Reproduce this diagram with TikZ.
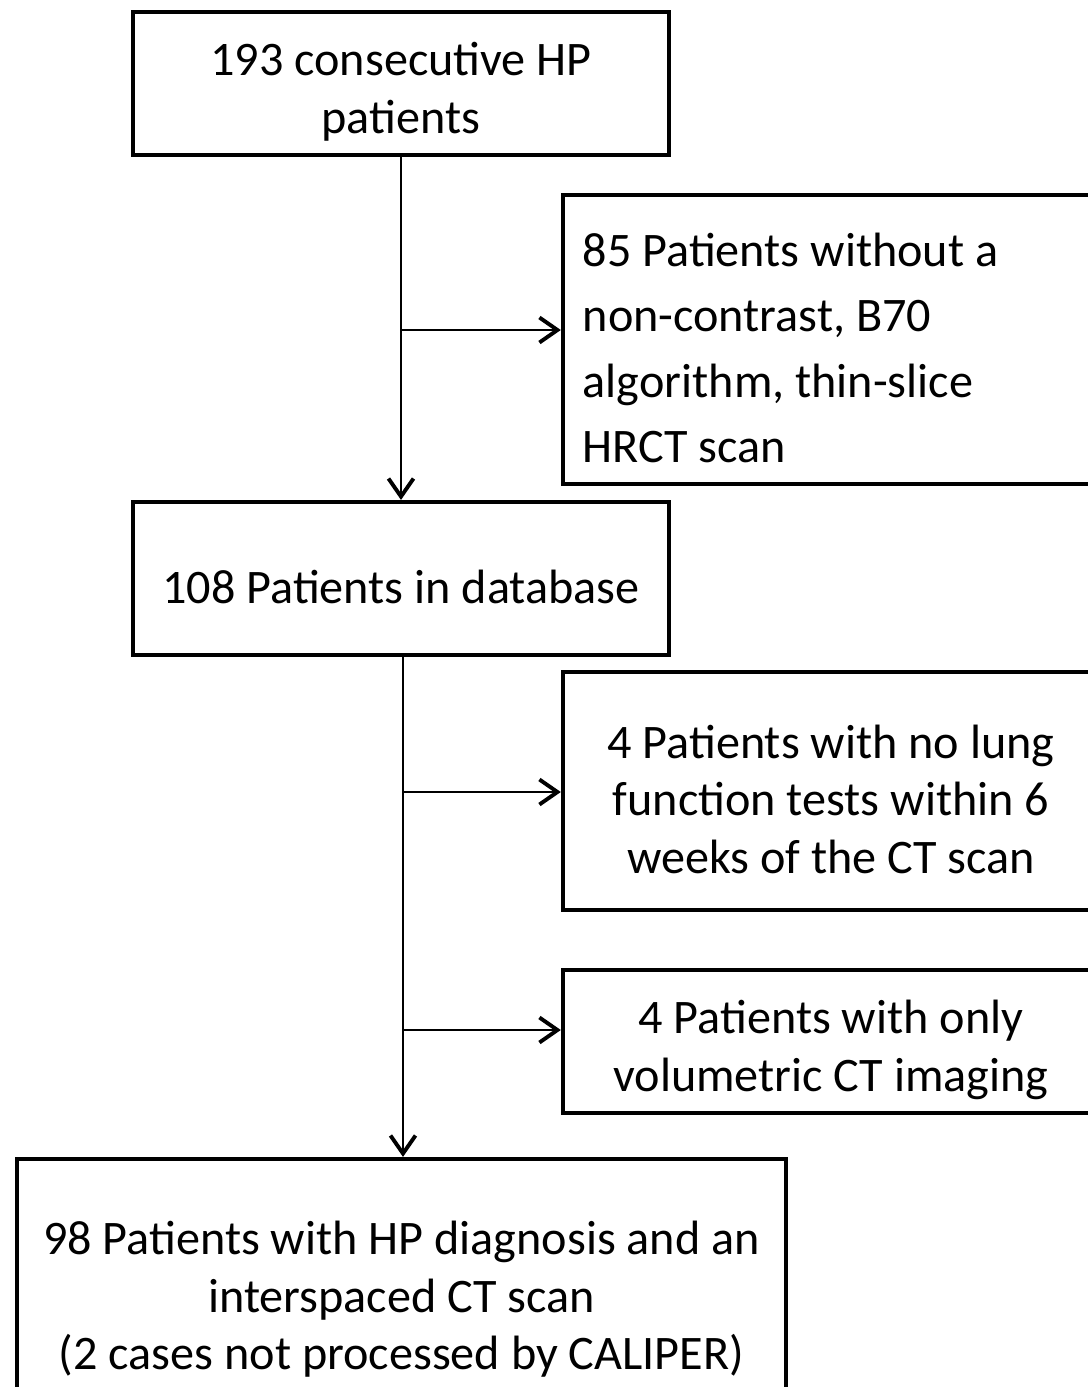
\documentclass[tikz,border=0pt]{standalone}
\usepackage{fontspec}
\setmainfont{Carlito}
\usetikzlibrary{arrows.meta}
\tikzset{
  box/.style={draw,line width=1.15pt,align=flush center,inner sep=0pt,text width=5cm,
    font=\fontsize{13.7}{16.4}\selectfont,
    execute at begin node={\rule{0pt}{14.2pt}}},
  arr/.style={line width=0.8pt,-{Straight Barb[length=1.8mm,width=2.5mm,line width=1.1pt]}}
}
\begin{document}
\begin{tikzpicture}[x=0.01cm,y=-0.01cm]
    \useasboundingbox (0,0) rectangle (1088,1387);
    \clip (0,0) rectangle (1088,1387);

    \node[box,minimum width=5.36cm,minimum height=1.43cm] (start) at (401,83.5)
          {193 consecutive HP\\patients};

    \node[box,minimum width=5.36cm,minimum height=2.89cm,align=flush left,
          text width=4.96cm,font=\fontsize{13.7}{18.6}\selectfont] (noscan) at (831,339.5)
          {85 Patients without a\\non-contrast, B70\\algorithm, thin-slice\\HRCT scan};

    \node[box,minimum width=5.36cm,minimum height=1.53cm] (database) at (401,578.5)
          {108 Patients in database};

    \node[box,minimum width=5.36cm,minimum height=2.38cm] (nolung) at (831,791)
          {4 Patients with no lung\\function tests within 6\\weeks of the CT scan};

    \node[box,minimum width=5.36cm,minimum height=1.43cm] (volume) at (831,1041.5)
          {4 Patients with only\\volumetric CT imaging};

    \node[box,text width=7.6cm,minimum width=7.69cm,minimum height=2.64cm] (final) at (401.5,1291)
          {98 Patients with HP diagnosis and an\\interspaced CT scan\\(2 cases not processed by CALIPER)};

    % connectors
    \coordinate (split1) at (401,330);
    \coordinate (split2) at (403,792);
    \coordinate (split3) at (403,1030);

    \draw[arr] (start.south) -- (database.north);
    \draw[arr] (split1) -- (split1 -| noscan.west);

    \draw[arr] (database.south -| split2) -- (final.north -| split2);
    \draw[arr] (split2) -- (split2 -| nolung.west);
    \draw[arr] (split3) -- (split3 -| volume.west);

\end{tikzpicture}
\end{document}
